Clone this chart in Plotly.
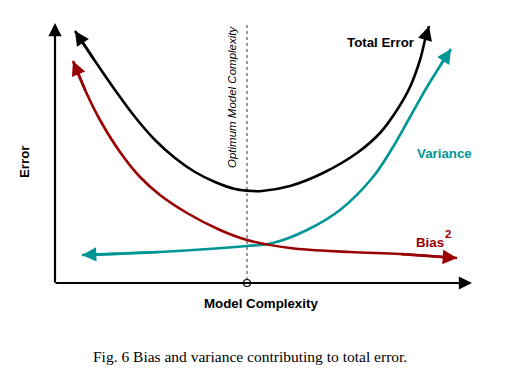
import plotly.graph_objects as go

# Conceptual units: model complexity (x) and error (y), origin at axes corner
total_x = [20, 40, 60, 80, 100, 120, 140, 160, 180, 197, 207, 235, 268, 302, 325, 342, 355, 365, 370, 374]
total_y = [252, 222, 193, 166, 143, 125, 111, 101, 94, 92, 92, 97, 110, 130, 150, 173, 196, 223, 243, 257]

var_x = [27, 105, 192, 218, 252, 285, 318, 338, 355, 372, 385, 396]
var_y = [28, 31, 37, 40, 53, 73, 106, 136, 166, 196, 217, 234]

bias_x = [18, 31, 45, 65, 85, 105, 132, 165, 192, 235, 295, 345, 402]
bias_y = [222, 191, 163, 131, 106, 88, 70, 53, 43, 35, 31, 29, 25]

optimum_x = 192
x_axis_end = 417
y_axis_end = 260

BLACK = "#000000"
TEAL = "#009696"
RED = "#990000"
SANS = "Liberation Sans, Arial, sans-serif"

fig = go.Figure()

def curve(xs, ys, color):
    fig.add_trace(go.Scatter(x=xs, y=ys, mode="lines",
                             line=dict(color=color, width=2.6, shape="spline", smoothing=1),
                             hoverinfo="skip", showlegend=False))

curve(total_x, total_y, BLACK)
curve(var_x, var_y, TEAL)
curve(bias_x, bias_y, RED)

# optimum marker
fig.add_trace(go.Scatter(x=[optimum_x], y=[0], mode="markers",
                         marker=dict(symbol="circle", size=7, color="white",
                                     line=dict(color=BLACK, width=1.2)),
                         hoverinfo="skip", showlegend=False, cliponaxis=False))

fig.add_shape(type="line", x0=optimum_x, x1=optimum_x, y0=3, y1=258,
              line=dict(color="#555555", width=1.2, dash="dot"), layer="below")

def arrow(x, y, ax, ay, color, width=2.6, size=1.1):
    fig.add_annotation(x=x, y=y, ax=ax, ay=ay, xref="x", yref="y", axref="x", ayref="y",
                       showarrow=True, arrowhead=2, arrowsize=size, arrowwidth=width,
                       arrowcolor=color, text="", standoff=0, startstandoff=0)

# curve arrowheads
arrow(total_x[0], total_y[0], total_x[1], total_y[1], BLACK)
arrow(total_x[-1], total_y[-1], total_x[-2], total_y[-2], BLACK)
arrow(bias_x[0], bias_y[0], bias_x[1], bias_y[1], RED)
arrow(bias_x[-1], bias_y[-1], bias_x[-2], bias_y[-2], RED)
arrow(var_x[0], var_y[0], var_x[1], var_y[1], TEAL)
arrow(var_x[-1], var_y[-1], var_x[-2], var_y[-2], TEAL)

# axes with arrows
arrow(0, y_axis_end, 0, -1, BLACK, width=2.2, size=1.2)
arrow(x_axis_end, 0, -1, 0, BLACK, width=2.2, size=1.2)

def label(x, y, text, color=BLACK, size=13.3, bold=True, angle=0, family=SANS, italic=False):
    t = text
    if bold:
        t = "<b>" + t + "</b>"
    if italic:
        t = "<i>" + t + "</i>"
    fig.add_annotation(x=x, y=y, xref="x", yref="y", text=t, showarrow=False,
                       textangle=angle, font=dict(family=family, size=size, color=color))

label(325, 241, "Total Error")
label(389, 130, "Variance", color=TEAL)
label(375, 41, "Bias", color=RED)
label(393, 49, "2", color=RED, size=11.5)
label(-31, 121, "Error", angle=-90)
label(206, -20, "Model Complexity")
label(177, 186, "Optimum Model Complexity", bold=False, italic=True, angle=-90, size=11.5)
label(195, -73, "Fig. 6 Bias and variance contributing to total error.", bold=False,
      size=15.5, family="Liberation Serif, Times New Roman, serif")

# page body has an 8px margin, so the figure is 8px smaller and ranges start 8px in
fig.update_layout(width=508, height=368, margin=dict(l=0, r=0, t=0, b=0),
                  plot_bgcolor="white", paper_bgcolor="white",
                  xaxis=dict(range=[-47, 461], visible=False, fixedrange=True),
                  yaxis=dict(range=[-93, 275], visible=False, fixedrange=True))

fig.write_html("out.html")
